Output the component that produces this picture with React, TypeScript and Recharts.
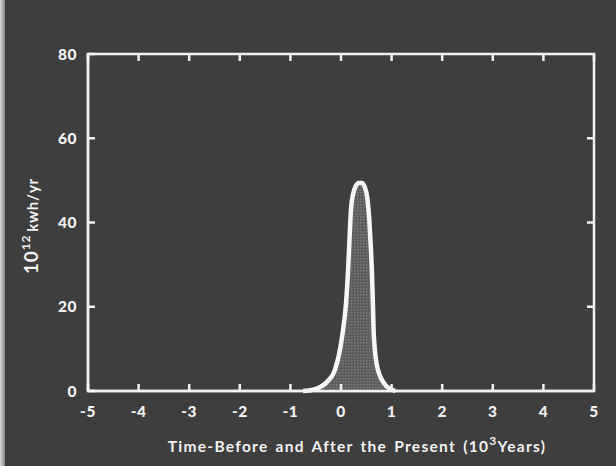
import React from "react";
import {
  AreaChart,
  Area,
  XAxis,
  YAxis,
  ReferenceArea,
} from "recharts";

// time in 10^3 years relative to present, energy in 10^12 kwh/yr
const years = [
  -0.75, -0.55, -0.4, -0.25, -0.12, 0.02, 0.1, 0.14, 0.17, 0.2, 0.24, 0.29,
  0.35, 0.41, 0.47, 0.52, 0.56, 0.59, 0.61, 0.63, 0.65, 0.73, 0.91, 1.07,
];
const energy = [
  0, 0.3, 1, 2.5, 5, 12.8, 20.9, 28.7, 36.6, 43.5, 46.8, 48.6, 49.4, 49.4,
  48.4, 45.8, 40.5, 34, 28.7, 20.9, 12.8, 5, 1, 0,
];
const xTicks = [-5, -4, -3, -2, -1, 0, 1, 2, 3, 4, 5];
const yTicks = [0, 20, 40, 60, 80];
const innerYTicks = [20, 40, 60];

const data = years.map((t, i) => ({ t, e: energy[i] }));

const INK = "#f2f2f2";
const FONT = "Lato, 'DejaVu Sans', sans-serif";

const tickStyle = { fill: INK, fontSize: 15.5, fontWeight: 900, fontFamily: FONT, letterSpacing: 0.5 };
const tickLineStyle = { stroke: INK, strokeWidth: 2.5 };

const NoLabel = () => <g />;

function XTitle() {
  return (
    <text
      x={357}
      y={452}
      textAnchor="middle"
      fill={INK}
      fontFamily={FONT}
      fontWeight={700}
      fontSize={15.5}
      letterSpacing={1.3}
      wordSpacing={2}
    >
      Time-Before and After the Present (10
      <tspan dy={-7} fontSize={12}>
        3
      </tspan>
      <tspan dy={7}>Years)</tspan>
    </text>
  );
}

function YTitle() {
  return (
    <text
      transform="translate(38 226) rotate(-90)"
      textAnchor="middle"
      fill={INK}
      fontFamily={FONT}
      fontWeight={700}
      letterSpacing={0.8}
    >
      <tspan fontSize={19}>10</tspan>
      <tspan dy={-8} fontSize={12}>
        12
      </tspan>
      <tspan dy={8} fontSize={15} dx={3}>
        kwh/yr
      </tspan>
    </text>
  );
}

export default function App() {
  return (
    <div
      style={{
        position: "absolute",
        left: 0,
        top: 0,
        width: 616,
        height: 466,
        background: "#3e3e3e",
        overflow: "hidden",
      }}
    >
      <div
        style={{
          position: "absolute",
          left: 0,
          top: 0,
          bottom: 0,
          width: 5,
          background: "linear-gradient(to right, #d8d8d8, #8a8a8a)",
        }}
      />
      <AreaChart
        width={616}
        height={466}
        data={data}
        margin={{ top: 50, right: 18, bottom: 25, left: 28 }}
        style={{ position: "absolute", left: 0, top: 0 }}
      >
        <defs>
          <pattern id="dots" width="3" height="3" patternUnits="userSpaceOnUse">
            <rect width="3" height="3" fill="#5c5c5c" />
            <rect width="1.5" height="1.5" fill="#7a7a7a" />
          </pattern>
        </defs>
        <XAxis
          xAxisId="bottom"
          dataKey="t"
          type="number"
          domain={[-5, 5]}
          ticks={xTicks}
          height={50}
          tick={tickStyle}
          tickLine={tickLineStyle}
          tickSize={-7}
          tickMargin={22}
          stroke={INK}
          strokeWidth={2.5}
          allowDataOverflow
          label={<XTitle />}
        />
        <XAxis
          xAxisId="top"
          dataKey="t"
          type="number"
          orientation="top"
          domain={[-5, 5]}
          ticks={xTicks}
          height={4}
          tick={NoLabel}
          tickLine={tickLineStyle}
          tickSize={-7}
          axisLine={false}
          stroke={INK}
        />
        <YAxis
          yAxisId="left"
          type="number"
          domain={[0, 80]}
          ticks={yTicks}
          width={60}
          tick={tickStyle}
          tickLine={tickLineStyle}
          tickSize={-7}
          tickMargin={18}
          stroke={INK}
          strokeWidth={2.5}
          label={<YTitle />}
        />
        <YAxis
          yAxisId="right"
          orientation="right"
          type="number"
          domain={[0, 80]}
          ticks={innerYTicks}
          width={4}
          tick={NoLabel}
          tickLine={tickLineStyle}
          tickSize={-7}
          axisLine={false}
          stroke={INK}
        />
        <ReferenceArea
          xAxisId="bottom"
          yAxisId="left"
          x1={-5}
          x2={5}
          y1={0}
          y2={80}
          fill="none"
          fillOpacity={0}
          stroke={INK}
          strokeWidth={2.5}
          ifOverflow="visible"
        />
        {/* invisible twin so the top and right axes get drawn */}
        <Area
          xAxisId="top"
          yAxisId="right"
          dataKey="e"
          type="monotone"
          fill="none"
          stroke="none"
          isAnimationActive={false}
          dot={false}
          activeDot={false}
        />
        <Area
          xAxisId="bottom"
          yAxisId="left"
          dataKey="e"
          type="monotone"
          fill="url(#dots)"
          fillOpacity={1}
          stroke="#f7f7f7"
          strokeWidth={4.5}
          strokeLinejoin="round"
          isAnimationActive={false}
          dot={false}
          activeDot={false}
        />
      </AreaChart>
    </div>
  );
}
